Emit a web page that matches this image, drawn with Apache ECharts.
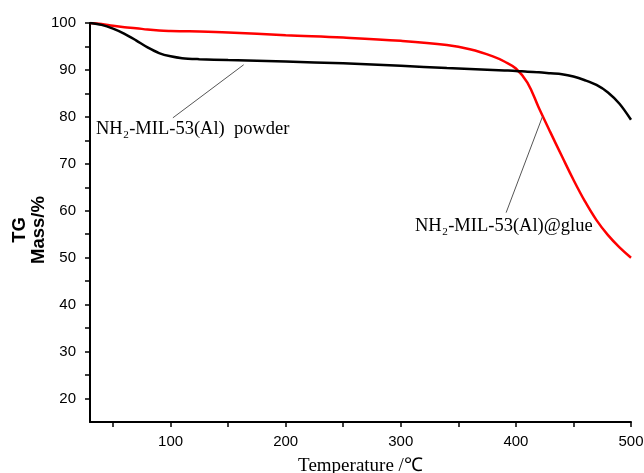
<!DOCTYPE html>
<html>
<head>
<meta charset="utf-8">
<script src="https://cdn.jsdelivr.net/npm/echarts@6/dist/echarts.min.js"></script>
<style>
  html, body { margin: 0; padding: 0; background: #fff; }
  #main { width: 644px; height: 473px; }
</style>
</head>
<body>
<div id="main"></div>
<script>
// temperature points (℃)
const temps = [30, 40, 50, 60, 70, 80, 90, 100, 110, 125, 150, 200, 250, 300, 340, 360, 380, 390, 400, 410, 420, 430, 440, 450, 460, 470, 480, 490, 500];
// mass %, NH2-MIL-53(Al) powder
const powder = [100, 99.6, 98.8, 97.7, 96.3, 94.8, 93.6, 92.9, 92.5, 92.3, 92.1, 91.8, 91.4, 90.9, 90.4, 90.2, 90.0, 89.9, 89.8, 89.6, 89.5, 89.3, 89.1, 88.6, 87.8, 86.8, 85.2, 82.8, 79.4];
// mass %, NH2-MIL-53(Al)@glue
const glue = [100, 99.8, 99.4, 99.1, 98.9, 98.6, 98.4, 98.3, 98.25, 98.2, 98.0, 97.4, 96.9, 96.2, 95.3, 94.4, 92.9, 91.8, 90.3, 87.3, 81.9, 76.7, 71.6, 66.6, 62.0, 58.0, 54.8, 52.2, 50.0];

const xTicks = [50, 100, 150, 200, 250, 300, 350, 400, 450, 500];
const xLabels = [100, 200, 300, 400, 500];
const yTicks = [20, 25, 30, 35, 40, 45, 50, 55, 60, 65, 70, 75, 80, 85, 90, 95, 100];
const yLabels = [20, 30, 40, 50, 60, 70, 80, 90, 100];

// leader lines for the annotations, in data coords
const powderLeader = [[102, 79.8], [163.5, 91.1]];
const glueLeader = [[391.5, 59.6], [423, 80.0]];

const chart = echarts.init(document.getElementById('main'));

function pairs(ys) {
    return temps.map(function (t, i) { return [t, ys[i]]; });
}

const leaderStyle = { color: '#555', width: 1, type: 'solid' };
const tickFont = 'Liberation Sans, Arial, sans-serif';
const serifFont = '18.5px "Liberation Serif", "Times New Roman", serif';

option = {
    animation: false,
    grid: { left: 90, right: 13, top: 23, bottom: 51, outerBoundsMode: 'none', containLabel: false },
    xAxis: {
        type: 'value',
        min: 30,
        max: 500,
        name: 'Temperature /℃',
        nameLocation: 'middle',
        nameGap: 35,
        nameTextStyle: { fontFamily: 'Liberation Serif, Times New Roman, serif', fontSize: 19, color: '#000' },
        axisLine: { lineStyle: { color: '#000', width: 2 } },
        axisTick: { customValues: xTicks, length: 5, lineStyle: { color: '#000', width: 1.5 } },
        axisLabel: { customValues: xLabels, margin: 12, fontFamily: tickFont, fontSize: 15, color: '#000' },
        splitLine: { show: false }
    },
    yAxis: {
        type: 'value',
        min: 15,
        max: 100,
        axisLine: { show: true, lineStyle: { color: '#000', width: 2 } },
        axisTick: { show: true, customValues: yTicks, length: 5, lineStyle: { color: '#000', width: 1.5 } },
        axisLabel: { customValues: yLabels, margin: 14, fontFamily: tickFont, fontSize: 15, color: '#000' },
        splitLine: { show: false }
    },
    series: [
        {
            name: 'NH2-MIL-53(Al) powder',
            type: 'line',
            data: pairs(powder),
            smooth: 0.3,
            showSymbol: false,
            lineStyle: { color: '#000', width: 2.5 },
            z: 3,
            markLine: {
                silent: true,
                symbol: 'none',
                label: { show: false },
                lineStyle: leaderStyle,
                data: [[{ coord: powderLeader[0] }, { coord: powderLeader[1] }]]
            }
        },
        {
            name: 'NH2-MIL-53(Al)@glue',
            type: 'line',
            data: pairs(glue),
            smooth: 0.4,
            showSymbol: false,
            lineStyle: { color: '#ff0000', width: 2.5 },
            z: 2,
            markLine: {
                silent: true,
                symbol: 'none',
                label: { show: false },
                lineStyle: leaderStyle,
                data: [[{ coord: glueLeader[0] }, { coord: glueLeader[1] }]]
            }
        }
    ],
    graphic: [
        {
            // y axis title
            type: 'text',
            x: 29.5,
            y: 230,
            rotation: Math.PI / 2,
            style: {
                text: 'TG\nMass/%',
                font: 'bold 18.5px "Liberation Sans", Arial, sans-serif',
                lineHeight: 19,
                align: 'center',
                verticalAlign: 'middle',
                fill: '#000'
            }
        },
        {
            type: 'text',
            left: 96,
            top: 120,
            style: { text: 'NH₂-MIL-53(Al)  powder', font: serifFont, fill: '#000' }
        },
        {
            type: 'text',
            left: 415,
            top: 217,
            style: { text: 'NH₂-MIL-53(Al)@glue', font: serifFont, fill: '#000' }
        }
    ]
};

chart.setOption(option);
</script>
</body>
</html>
